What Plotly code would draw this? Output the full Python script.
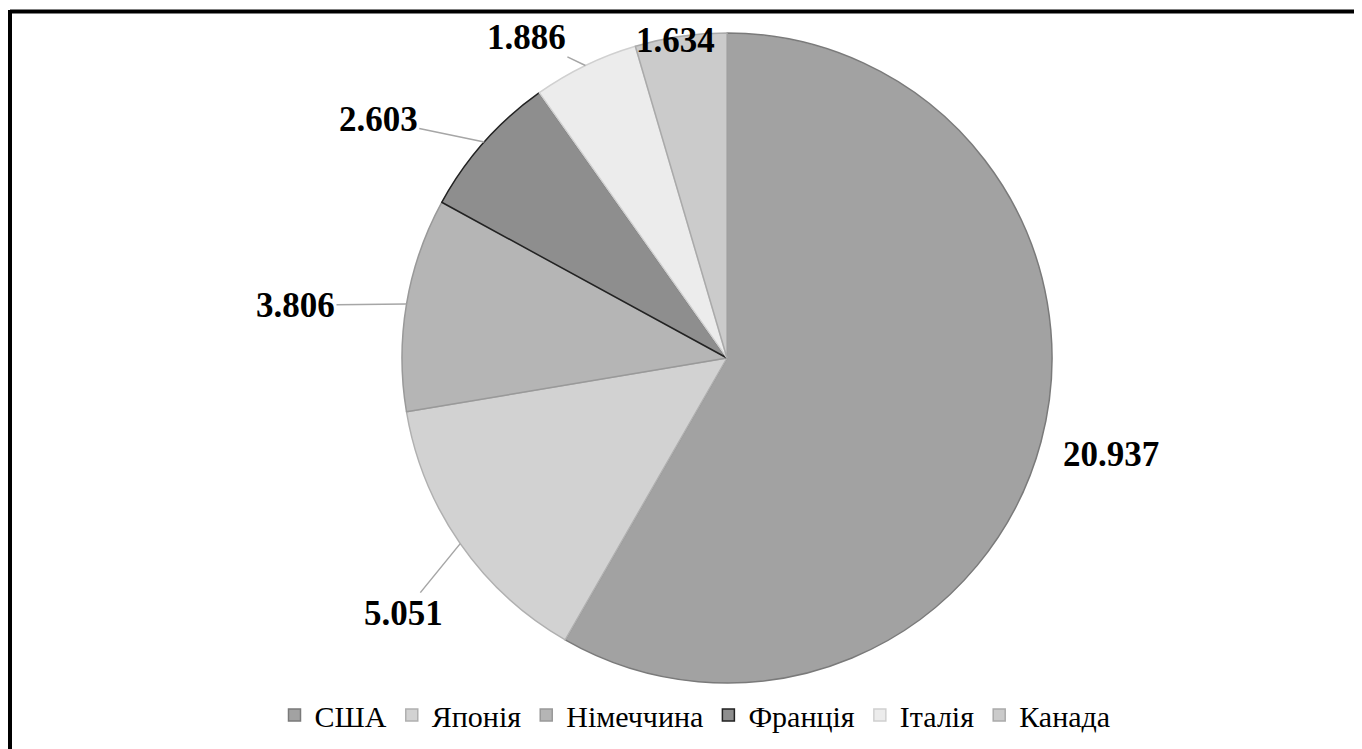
import numpy as np
import plotly.graph_objects as go

countries = ["США", "Японія", "Німеччина", "Франція", "Італія", "Канада"]
values = [20.937, 5.051, 3.806, 2.603, 1.886, 1.634]
value_labels = ["20.937", "5.051", "3.806", "2.603", "1.886", "1.634"]
fill_colors = ["#a2a2a2", "#d2d2d2", "#b5b5b5", "#8e8e8e", "#ececec", "#cbcbcb"]
edge_colors = ["#7a7a7a", "#b0b0b0", "#999999", "#222222", "#d0d0d0", "#aaaaaa"]
# label offsets (px) from each slice's rim midpoint, and whether a leader line is drawn
label_dx = [70, -57, -111, -106, -59, -5]
label_dy = [13, 70, 1, -22, -28, 4]
leader = [False, True, True, True, True, False]

# page has an 8px body margin: figure pixel = page pixel - 8
OFF = 8
W, H = 1362 - OFF, 749 - OFF
SERIF = "Liberation Serif, Times New Roman, serif"

cx, cy, r = 727 - OFF, 358 - OFF, 325

fig = go.Figure(go.Pie(
    labels=countries,
    values=values,
    textinfo="none",
    sort=False,
    direction="clockwise",
    rotation=0,
    marker=dict(colors=fill_colors, line=dict(color=edge_colors, width=1.5)),
    domain=dict(x=[(cx - r) / W, (cx + r) / W], y=[1 - (cy + r) / H, 1 - (cy - r) / H]),
    hoverinfo="label+value",
))

# label anchors at the rim midpoint of each slice (clockwise from 12 o'clock)
vals = np.array(values)
frac_mid = (np.cumsum(vals) - vals / 2) / vals.sum()
theta = 2 * np.pi * frac_mid
rim_x = cx + r * np.sin(theta)
rim_y = cy - r * np.cos(theta)

annotations = []
for i, lab in enumerate(value_labels):
    base = dict(
        xref="paper", yref="paper",
        x=rim_x[i] / W, y=1 - rim_y[i] / H,
        xanchor="center", yanchor="middle",
        text=f"<b>{lab}</b>",
        font=dict(family=SERIF, size=35, color="black"),
    )
    if leader[i]:
        base.update(showarrow=True, arrowhead=0, arrowwidth=1.5, arrowcolor="#a6a6a6",
                    ax=label_dx[i], ay=label_dy[i], standoff=0, startstandoff=0)
    else:
        base.update(showarrow=False, xshift=label_dx[i], yshift=-label_dy[i])
    annotations.append(base)

fig.update_layout(
    width=W, height=H,
    margin=dict(l=0, r=0, t=0, b=0, autoexpand=False),
    paper_bgcolor="white",
    plot_bgcolor="white",
    font=dict(family=SERIF, color="black"),
    showlegend=True,
    legend=dict(
        orientation="h",
        x=(695 - OFF) / W, xanchor="center",
        y=1 - (715 - OFF) / H, yanchor="middle",
        font=dict(family=SERIF, size=30, color="black"),
        itemwidth=30,
        traceorder="normal",
    ),
    annotations=annotations,
    shapes=[
        dict(type="line", xref="paper", yref="paper", x0=(10 - OFF) / W, x1=1.0,
             y0=1 - (11.5 - OFF) / H, y1=1 - (11.5 - OFF) / H,
             line=dict(color="black", width=4)),
        dict(type="line", xref="paper", yref="paper", x0=(10 - OFF) / W, x1=(10 - OFF) / W,
             y0=0, y1=1 - (10 - OFF) / H,
             line=dict(color="black", width=4)),
    ],
)

fig.write_html("out.html")
